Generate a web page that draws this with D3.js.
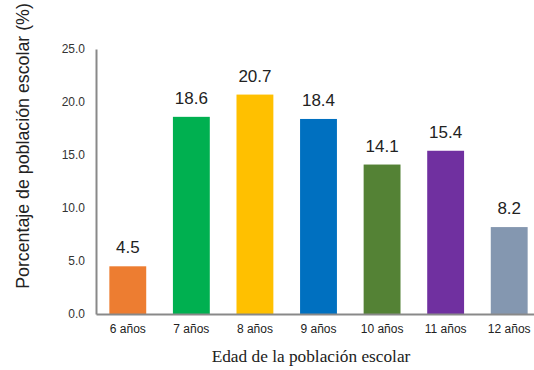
<!DOCTYPE html>
<html>
<head>
<meta charset="utf-8">
<script src="https://cdn.jsdelivr.net/npm/d3@7"></script>
<style>
  html, body { margin: 0; padding: 0; background: #fff; }
  svg { display: block; }
</style>
</head>
<body>
<svg id="chart" width="534" height="370"></svg>
<script>
// Age groups and share of school population (%)
const categories = ["6 años", "7 años", "8 años", "9 años", "10 años", "11 años", "12 años"];
const values = [4.5, 18.6, 20.7, 18.4, 14.1, 15.4, 8.2];
const colors = ["#ED7D31", "#00B050", "#FFC000", "#0070C0", "#548235", "#7030A0", "#8497B0"];
const yTicks = [0, 5, 10, 15, 20, 25];

const svg = d3.select("#chart");
const plot = { left: 96, right: 541, top: 49, bottom: 314 };

const x = d3.scaleBand().domain(categories).range([plot.left, plot.right]).paddingInner(0.42).paddingOuter(0.21);
const y = d3.scaleLinear().domain([0, 25]).range([plot.bottom, plot.top]);

const sans = "'Liberation Sans', Arial, sans-serif";

// Bars
svg.selectAll("rect.bar").data(values).enter().append("rect")
  .attr("class", "bar")
  .attr("x", (d, i) => x(categories[i]))
  .attr("width", x.bandwidth())
  .attr("y", d => y(d))
  .attr("height", d => y(0) - y(d))
  .attr("fill", (d, i) => colors[i]);

// Value labels
svg.selectAll("text.val").data(values).enter().append("text")
  .attr("class", "val")
  .attr("x", (d, i) => x(categories[i]) + x.bandwidth() / 2)
  .attr("y", d => y(d) - 13)
  .attr("text-anchor", "middle")
  .attr("font-family", sans)
  .attr("font-size", 17)
  .attr("fill", "#222")
  .text(d => d.toFixed(1));

// Y axis
const yAxis = svg.append("g").attr("transform", `translate(${plot.left},0)`)
  .call(d3.axisLeft(y).tickValues(yTicks).tickFormat(d3.format(".1f")).tickSize(0).tickPadding(11));
yAxis.select(".domain").attr("stroke", "#898989").attr("stroke-width", 2);
yAxis.selectAll("text").attr("font-family", sans).attr("font-size", 12).attr("fill", "#333");

// X axis
const xAxis = svg.append("g").attr("transform", `translate(0,${plot.bottom})`)
  .call(d3.axisBottom(x).tickSize(0).tickPadding(10));
xAxis.select(".domain").attr("stroke", "#898989").attr("stroke-width", 2);
xAxis.selectAll("text").attr("font-family", sans).attr("font-size", 12).attr("fill", "#222");

// Axis titles
svg.append("text")
  .attr("transform", "translate(29,146) rotate(-90)")
  .attr("text-anchor", "middle")
  .attr("font-family", sans)
  .attr("font-size", 17.8)
  .attr("fill", "#222")
  .text("Porcentaje de población escolar (%)");

svg.append("text")
  .attr("x", 311)
  .attr("y", 362)
  .attr("text-anchor", "middle")
  .attr("font-family", "'Liberation Serif', 'Times New Roman', serif")
  .attr("font-size", 17.3)
  .attr("fill", "#222")
  .text("Edad de la población escolar");
</script>
</body>
</html>
